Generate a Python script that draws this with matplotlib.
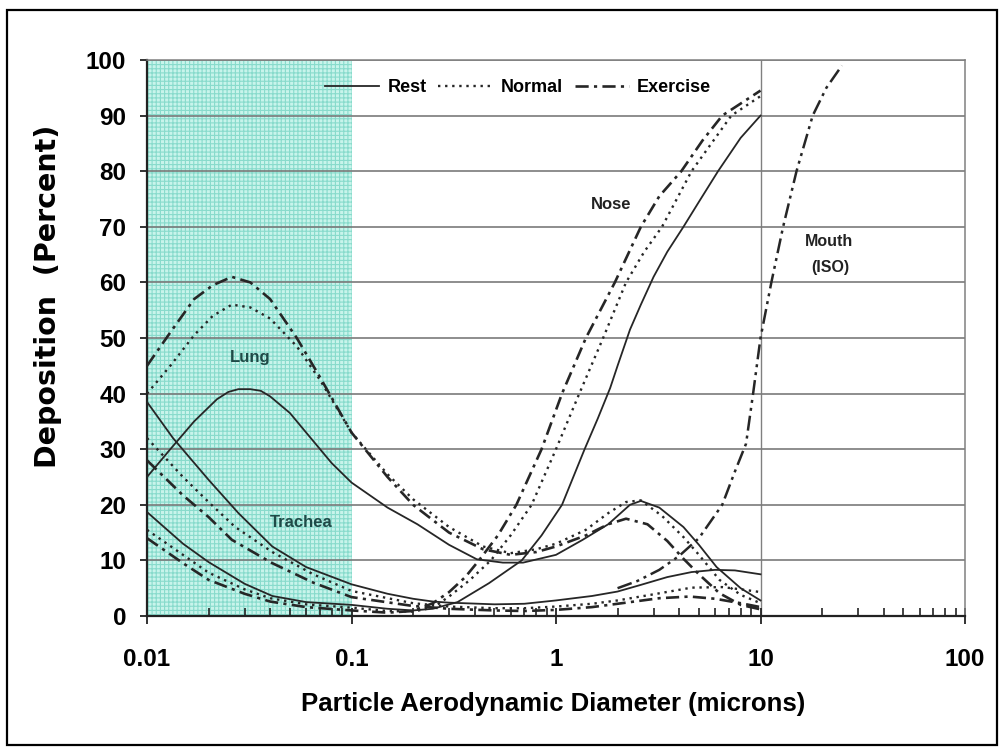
import matplotlib
matplotlib.use('Agg')
import matplotlib.pyplot as plt
from matplotlib.lines import Line2D
from matplotlib.patches import Rectangle
from matplotlib.ticker import LogLocator, NullFormatter

plt.rcParams['font.family'] = ['Liberation Sans', 'DejaVu Sans']
plt.rcParams['font.weight'] = 'bold'
plt.rcParams['hatch.linewidth'] = 0.8

# ---------------- data ----------------
x_ticks = [0.01, 0.1, 1, 10, 100]
x_tick_labels = ['0.01', '0.1', '1', '10', '100']
y_ticks = list(range(0, 101, 10))

# Lung (alveolar) deposition
lung_rest_x = [0.01, 0.013, 0.017, 0.022, 0.025, 0.028, 0.032, 0.036, 0.04, 0.05, 0.06, 0.08, 0.1,
               0.15, 0.21, 0.3, 0.41, 0.55, 0.69, 1.0, 1.35, 1.8, 2.3, 2.6, 3.2, 4.2, 5.0,
               6.1, 8.0, 10]
lung_rest_y = [25, 30, 35, 39, 40.3, 40.8, 40.8, 40.5, 39.5, 36.5, 33, 27.5, 24,
               19.5, 16.5, 12.8, 10.2, 9.6, 9.6, 11, 13.7, 16.5, 20, 20.7, 19.5, 16, 12.8,
               8.8, 5, 2.8]
lung_norm_x = [0.01, 0.013, 0.017, 0.021, 0.026, 0.032, 0.04, 0.054, 0.07, 0.1, 0.15, 0.2, 0.3,
               0.44, 0.6, 0.8, 1.0, 1.4, 1.8, 2.2, 2.6, 3.3, 4.2, 5.0, 6.3, 8.0, 10]
lung_norm_y = [40, 45, 50.5, 54, 56, 55.5, 53.5, 48.5, 42.5, 33, 25.5, 21, 16,
               12.5, 11.3, 12, 13, 15.5, 18.5, 20.5, 20.8, 18, 14.2, 11, 6.5, 3.8, 2.3]
lung_exer_x = [0.01, 0.013, 0.017, 0.021, 0.026, 0.032, 0.04, 0.054, 0.07, 0.1, 0.15, 0.2, 0.3,
               0.44, 0.6, 0.8, 1.0, 1.4, 1.8, 2.2, 2.8, 3.5, 4.2, 5.0, 6.3, 8.0, 10]
lung_exer_y = [45, 51, 57, 59.5, 61, 60, 57, 50, 43, 33, 25, 20, 15,
               12, 11, 11.5, 12.5, 14.5, 16.5, 17.5, 16.5, 13.5, 10.3, 7.5, 4.1, 2, 1.2]

# Trachea (tracheobronchial) deposition
trach_rest_x = [0.01, 0.0134, 0.02, 0.028, 0.041, 0.06, 0.1, 0.15, 0.2, 0.25, 0.3, 0.5, 0.7,
                1.0, 1.5, 2.0, 2.6, 3.5, 4.6, 6.0, 7.5, 10]
trach_rest_y = [38.5, 32, 24.5, 18.5, 12.5, 8.8, 5.7, 4.0, 3.1, 2.6, 2.4, 2.1, 2.2,
                2.8, 3.6, 4.4, 5.6, 7.0, 7.9, 8.3, 8.2, 7.5]
trach_norm_x = [0.01, 0.015, 0.02, 0.027, 0.041, 0.065, 0.1, 0.2, 0.3, 0.5, 0.7,
                1.0, 1.5, 2.0, 3.0, 4.6, 6.5, 8.0, 10]
trach_norm_y = [32, 25, 20.5, 16, 11.5, 7.5, 4.5, 2.3, 1.7, 1.4, 1.4,
                1.7, 2.2, 2.8, 3.9, 5.1, 5.2, 4.8, 4.3]
trach_exer_x = [0.01, 0.015, 0.02, 0.026, 0.041, 0.065, 0.1, 0.2, 0.3, 0.5, 0.7,
                1.0, 1.5, 2.0, 3.2, 4.5, 6.0, 8.0, 10]
trach_exer_y = [28, 21.7, 17.8, 13.7, 9.5, 6, 3.4, 1.8, 1.3, 1.0, 0.9,
                1.1, 1.6, 2.2, 3.2, 3.5, 3.1, 2.3, 1.6]

# Nose (extrathoracic) deposition
nose_rest_x = [0.01, 0.015, 0.02, 0.03, 0.041, 0.06, 0.1, 0.15, 0.2, 0.25, 0.33, 0.47, 0.68,
               0.85, 1.07, 1.38, 1.6, 1.84, 2.0, 2.3, 2.6, 3.0, 3.5, 4.2, 5.0, 6.2, 8.0, 10]
nose_rest_y = [18.7, 13, 9.7, 5.8, 3.6, 2.5, 2.0, 1.3, 1.0, 1.3, 2.5, 5.9, 10,
               14.5, 20, 30, 35.5, 41, 45, 51.5, 56, 61, 65.5, 70, 74.5, 80, 86, 90]
nose_norm_x = [0.01, 0.015, 0.02, 0.03, 0.04, 0.06, 0.1, 0.15, 0.2, 0.25, 0.3, 0.38, 0.48,
               0.6, 0.76, 1.0, 1.3, 1.7, 2.2, 2.7, 3.3, 4.6, 7.2, 10]
nose_norm_y = [15.5, 11, 7.8, 4.8, 3.2, 2.1, 1.5, 0.9, 0.8, 1.5, 3.5, 6.5, 10,
               14.5, 20, 30, 40, 50, 60, 65.5, 70, 80, 90, 93.5]
nose_exer_x = [0.01, 0.015, 0.02, 0.03, 0.04, 0.06, 0.1, 0.15, 0.2, 0.25, 0.3, 0.36, 0.42,
               0.52, 0.64, 0.85, 1.07, 1.4, 1.94, 2.6, 3.2, 4.1, 5.2, 6.5, 10]
nose_exer_y = [14, 9.5, 6.5, 4, 2.6, 1.6, 1.0, 0.6, 0.9, 2.3, 4.3, 7, 10,
               14.5, 20, 30, 40, 50, 60, 70, 75.5, 80, 85.5, 90, 94.5]

# Mouth (ISO) deposition
mouth_x = [2.0, 2.5, 3.2, 4.0, 5.0, 6.5, 7.5, 8.5, 9.2, 10, 11.3, 12.9, 15, 18, 21, 25]
mouth_y = [5, 6.3, 8.3, 10.8, 14, 20, 26, 31, 40, 50, 60, 70, 80, 90, 95, 99]

legend_labels = ['Rest', 'Normal', 'Exercise']

# ---------------- styles ----------------
LC = '#262626'
style_rest = dict(color=LC, lw=1.3, ls='-')
style_norm = dict(color=LC, lw=1.7, ls=(0, (1.0, 2.0)))
style_exer = dict(color=LC, lw=1.9, ls=(0, (5.0, 2.0, 1.2, 2.0)))
style_mouth = dict(color=LC, lw=1.8, ls=(0, (6.0, 2.0, 1.2, 2.0, 1.2, 2.0)))

fig = plt.figure(figsize=(10.05, 7.54), dpi=100)
ax = fig.add_axes([147 / 1005, 1 - 616 / 754, 818 / 1005, 556 / 754])
ax.set_xscale('log')
ax.set_xlim(0.01, 100)
ax.set_ylim(0, 100)

# shaded ultrafine region
ax.axvspan(0.01, 0.1, facecolor='#c8f4eb', edgecolor='#88dbcc', hatch='++++', lw=0, zorder=0)

# grid
ax.yaxis.grid(True, color='#7a7a7a', lw=1.2, zorder=1)
ax.axvline(10, color='#808080', lw=1.0, zorder=1)

for xs, ys, st in [
    (lung_rest_x, lung_rest_y, style_rest), (lung_norm_x, lung_norm_y, style_norm),
    (lung_exer_x, lung_exer_y, style_exer),
    (trach_rest_x, trach_rest_y, style_rest), (trach_norm_x, trach_norm_y, style_norm),
    (trach_exer_x, trach_exer_y, style_exer),
    (nose_rest_x, nose_rest_y, style_rest), (nose_norm_x, nose_norm_y, style_norm),
    (nose_exer_x, nose_exer_y, style_exer),
    (mouth_x, mouth_y, style_mouth)]:
    ax.plot(xs, ys, zorder=3, **st)

# axes styling
for s in ['top', 'right']:
    ax.spines[s].set_color('#808080')
    ax.spines[s].set_linewidth(1.1)
for s in ['left', 'bottom']:
    ax.spines[s].set_color('#222222')
    ax.spines[s].set_linewidth(1.6)

ax.set_yticks(y_ticks)
ax.set_xticks(x_ticks, labels=x_tick_labels)
ax.xaxis.set_minor_locator(LogLocator(base=10, subs=range(2, 10)))
ax.xaxis.set_minor_formatter(NullFormatter())
ax.tick_params(axis='y', direction='out', length=5, width=1.3, pad=10, labelsize=17.5,
               color='#222222')
ax.tick_params(axis='x', which='major', direction='inout', length=12, width=1.3, pad=17,
               labelsize=17.5, color='#222222')
ax.tick_params(axis='x', which='minor', direction='in', length=6, width=1.2, color='#222222')
for lab in ax.get_xticklabels() + ax.get_yticklabels():
    lab.set_fontweight('bold')

ax.set_xlabel('Particle Aerodynamic Diameter (microns)', fontsize=18.5, fontweight='bold')
ax.xaxis.set_label_coords(0.496, -0.137)
ax.set_ylabel('Deposition  (Percent)', fontsize=20.5, fontweight='bold',
              family=['DejaVu Sans'])
ax.yaxis.set_label_coords(-0.104, 0.575)

# annotations
ax.text(0.032, 46.5, 'Lung', ha='center', va='center', fontsize=12, color='#1f4a47')
ax.text(0.0566, 16.9, 'Trachea', ha='center', va='center', fontsize=12, color='#1f4a47')
ax.text(1.86, 74, 'Nose', ha='center', va='center', fontsize=12, color='#222222')
ax.text(21.6, 67.3, 'Mouth', ha='center', va='center', fontsize=11.5, color='#222222')
ax.text(21.9, 62.6, '(ISO)', ha='center', va='center', fontsize=11.5, color='#222222')

# legend
handles = [Line2D([], [], **style_rest), Line2D([], [], **style_norm),
           Line2D([], [], **style_exer)]
ax.legend(handles, legend_labels, ncol=3, loc='center left', bbox_to_anchor=(0.218, 0.950),
          frameon=False, handlelength=3.0, handletextpad=0.45,
          columnspacing=0.65, borderpad=0, borderaxespad=0, prop={'weight': 'bold', 'size': 13})

# outer border
fig.patches.append(Rectangle((7 / 1005, 9 / 754), 990 / 1005, 735 / 754,
                             transform=fig.transFigure, fill=False, ec='black', lw=1.6))

fig.savefig('out.png', dpi=100)
